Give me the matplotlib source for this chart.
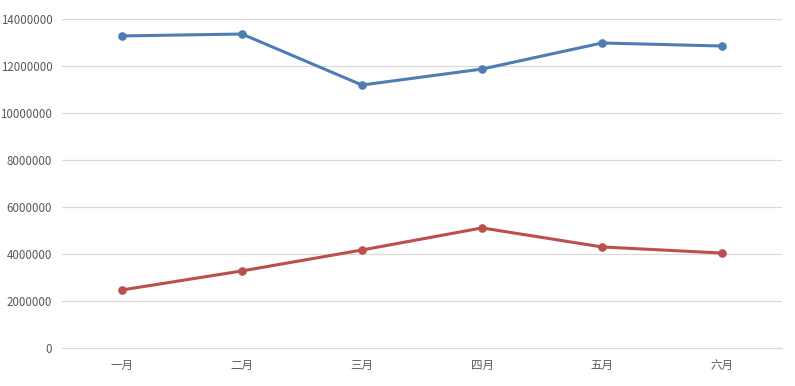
import matplotlib
matplotlib.use("Agg")
import matplotlib.pyplot as plt
from matplotlib.ticker import FuncFormatter

plt.rcParams['font.family'] = ['Noto Sans CJK SC', 'DejaVu Sans']

months = ['一月', '二月', '三月', '四月', '五月', '六月']
series_a = [13280000, 13360000, 11190000, 11870000, 12980000, 12850000]
series_b = [2470000, 3280000, 4170000, 5110000, 4300000, 4040000]
yticks = [0, 2000000, 4000000, 6000000, 8000000, 10000000, 12000000, 14000000]

fig = plt.figure(figsize=(7.95, 3.86), dpi=100)
ax = fig.add_axes([62/795, 38/386, 720/795, 329/386])

x = list(range(len(months)))
ax.plot(x, series_a, color='#4E7DB4', lw=2.2, marker='o', ms=5.2, zorder=3)
ax.plot(x, series_b, color='#B9504E', lw=2.2, marker='o', ms=5.2, zorder=3)

ax.set_xlim(-0.5, 5.5)
ax.set_ylim(0, 14000000)
ax.set_yticks(yticks)
ax.yaxis.set_major_formatter(FuncFormatter(lambda v, p: f'{int(v)}'))
ax.set_xticks(x)
ax.set_xticklabels(months)
ax.grid(axis='y', color='#D9D9D9', lw=0.9)
ax.set_axisbelow(True)
for s in ['top', 'right', 'left']:
    ax.spines[s].set_visible(False)
ax.spines['bottom'].set_color('#D9D9D9')
ax.tick_params(axis='both', length=0, labelsize=8.3, colors='#595959', pad=7)
ax.tick_params(axis='x', pad=8)

fig.savefig('out.png', dpi=100)
